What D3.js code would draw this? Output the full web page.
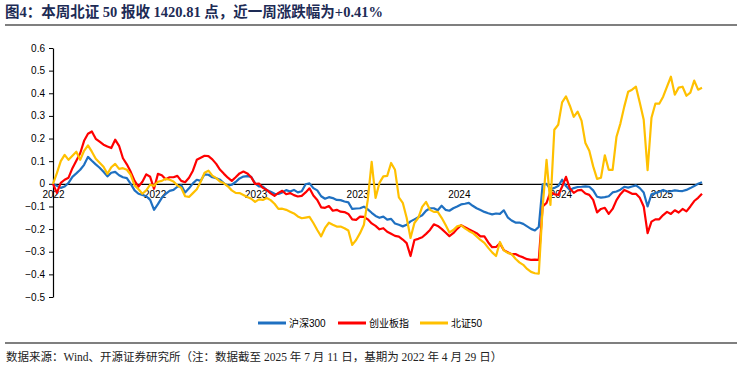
<!DOCTYPE html>
<html>
<head>
<meta charset="utf-8">
<script src="https://cdn.jsdelivr.net/npm/d3@7"></script>
<style>
  body { margin: 0; background: #fff; }
  svg text { font-family: "Liberation Sans", Arial, "Noto Sans CJK SC", sans-serif; }
</style>
</head>
<body>
<script>
// weekly closes, relative to base date 2022-04-29
var startDate = new Date(2022, 3, 29);
var weeks = d3.range(168).map(function(i) { return d3.timeDay.offset(startDate, i * 7); });

var seriesNames = ["沪深300", "创业板指", "北证50"];
var seriesColors = ["#1f70c1", "#ff0000", "#ffc000"];

var hs300 = [
  0.000, -0.009, -0.018, -0.012, 0.004, 0.031, 0.046, 0.062, 0.084, 0.119,
  0.102, 0.086, 0.071, 0.053, 0.033, 0.049, 0.053, 0.038, 0.029, 0.025,
  0.000, -0.029, -0.044, -0.049, -0.055, -0.071, -0.115, -0.090, -0.062, -0.044,
  -0.031, -0.027, -0.013, -0.007, -0.038, -0.020, 0.002, 0.018, 0.013, 0.042,
  0.040, 0.029, 0.025, 0.018, 0.002, -0.008, -0.004, 0.008, 0.024, 0.032,
  0.034, 0.031, 0.002, -0.011, -0.012, -0.027, -0.035, -0.044, -0.045, -0.038,
  -0.028, -0.034, -0.027, -0.038, -0.033, -0.002, 0.002, -0.019, -0.029, -0.055,
  -0.066, -0.059, -0.063, -0.071, -0.072, -0.078, -0.082, -0.111, -0.109, -0.108,
  -0.101, -0.113, -0.128, -0.142, -0.150, -0.145, -0.158, -0.155, -0.175, -0.181,
  -0.188, -0.181, -0.166, -0.157, -0.148, -0.139, -0.119, -0.108, -0.108, -0.117,
  -0.097, -0.115, -0.119, -0.108, -0.100, -0.091, -0.088, -0.084, -0.097, -0.108,
  -0.116, -0.124, -0.130, -0.135, -0.131, -0.133, -0.117, -0.148, -0.162, -0.171,
  -0.171, -0.177, -0.188, -0.199, -0.206, -0.190, -0.002, 0.000, -0.024, -0.018,
  -0.010, 0.018, -0.010, -0.027, -0.019, -0.014, -0.013, -0.011, -0.013, -0.029,
  -0.057, -0.061, -0.059, -0.055, -0.038, -0.034, -0.026, -0.013, -0.017, -0.012,
  -0.007, -0.019, -0.038, -0.100, -0.046, -0.041, -0.035, -0.027, -0.034, -0.033,
  -0.029, -0.031, -0.032, -0.027, -0.019, -0.010, 0.000, 0.007
];

var chinext = [
  0.000, -0.040, 0.004, 0.018, 0.027, 0.069, 0.102, 0.135, 0.190, 0.221,
  0.231, 0.199, 0.186, 0.173, 0.165, 0.158, 0.195, 0.168, 0.113, 0.086,
  0.053, 0.013, -0.012, 0.009, 0.042, 0.031, -0.022, 0.044, 0.038, 0.020,
  0.029, 0.029, 0.035, 0.013, 0.007, 0.027, 0.058, 0.106, 0.115, 0.124,
  0.122, 0.108, 0.088, 0.062, 0.044, 0.027, 0.013, 0.029, 0.046, 0.054,
  0.046, 0.029, 0.000, 0.001, -0.018, -0.027, -0.042, -0.053, -0.040, -0.031,
  -0.046, -0.041, -0.050, -0.056, -0.053, -0.038, -0.020, -0.052, -0.071, -0.104,
  -0.106, -0.098, -0.119, -0.115, -0.123, -0.125, -0.133, -0.157, -0.159, -0.145,
  -0.146, -0.157, -0.175, -0.186, -0.201, -0.196, -0.212, -0.221, -0.230, -0.233,
  -0.246, -0.262, -0.319, -0.248, -0.243, -0.236, -0.221, -0.204, -0.179, -0.186,
  -0.199, -0.215, -0.231, -0.218, -0.199, -0.183, -0.192, -0.201, -0.209, -0.218,
  -0.232, -0.232, -0.259, -0.280, -0.279, -0.263, -0.293, -0.302, -0.311, -0.310,
  -0.319, -0.325, -0.333, -0.336, -0.335, -0.336, -0.100, -0.084, -0.035, -0.046,
  -0.049, -0.013, 0.031, -0.020, -0.040, -0.029, -0.027, -0.043, -0.049, -0.071,
  -0.126, -0.111, -0.106, -0.133, -0.111, -0.072, -0.046, -0.027, -0.035, -0.044,
  -0.044, -0.062, -0.100, -0.218, -0.167, -0.157, -0.157, -0.138, -0.124, -0.133,
  -0.117, -0.127, -0.111, -0.122, -0.100, -0.076, -0.062, -0.044
];

var bse50 = [
  0.000, 0.047, 0.100, 0.128, 0.106, 0.124, 0.142, 0.106, 0.146, 0.170,
  0.142, 0.111, 0.093, 0.075, 0.044, 0.073, 0.088, 0.066, 0.069, 0.062,
  0.040, -0.007, -0.024, -0.044, -0.029, -0.004, -0.009, 0.009, 0.013, 0.022,
  0.018, 0.010, -0.007, -0.018, -0.055, -0.058, -0.041, -0.024, 0.009, 0.049,
  0.058, 0.036, 0.025, 0.010, 0.002, -0.011, -0.029, -0.040, -0.041, -0.049,
  -0.058, -0.066, -0.080, -0.069, -0.071, -0.063, -0.072, -0.088, -0.111, -0.110,
  -0.115, -0.123, -0.131, -0.144, -0.152, -0.149, -0.146, -0.173, -0.204, -0.232,
  -0.195, -0.172, -0.181, -0.189, -0.189, -0.196, -0.206, -0.270, -0.248, -0.218,
  -0.181, -0.071, 0.097, -0.062, 0.004, 0.033, 0.035, 0.092, 0.062, -0.060,
  -0.084, -0.150, -0.239, -0.173, -0.150, -0.102, -0.080, -0.115, -0.124, -0.124,
  -0.150, -0.181, -0.215, -0.204, -0.188, -0.183, -0.197, -0.208, -0.217, -0.232,
  -0.248, -0.261, -0.283, -0.303, -0.319, -0.257, -0.294, -0.305, -0.310, -0.331,
  -0.347, -0.358, -0.376, -0.389, -0.395, -0.397, -0.102, 0.106, -0.093, 0.239,
  0.261, 0.360, 0.386, 0.345, 0.296, 0.319, 0.279, 0.180, 0.146, 0.077,
  0.022, 0.027, 0.126, 0.062, 0.062, 0.208, 0.266, 0.341, 0.407, 0.416,
  0.429, 0.358, 0.283, 0.060, 0.292, 0.354, 0.354, 0.385, 0.429, 0.473,
  0.394, 0.425, 0.429, 0.389, 0.403, 0.456, 0.416, 0.424
];

var yTicks = [0.6, 0.5, 0.4, 0.3, 0.2, 0.1, 0, -0.1, -0.2, -0.3, -0.4, -0.5];
var xTicks = d3.range(7).map(function(i) { return d3.timeMonth.offset(startDate, i * 6); });

var titleText = "图4：本周北证 50 报收 1420.81 点，近一周涨跌幅为+0.41%";
var sourceText = "数据来源：Wind、开源证券研究所（注：数据截至 2025 年 7 月 11 日，基期为 2022 年 4 月 29 日）";

var w = 742, h = 372;
var svg = d3.select("body").append("svg")
  .attr("width", w)
  .attr("height", h);

// title + rules
svg.append("text")
  .attr("x", 5)
  .attr("y", 17)
  .style("font-family", "'Liberation Serif', 'Times New Roman', 'Noto Sans CJK SC', serif")
  .style("font-size", "14.5px")
  .style("font-weight", "bold")
  .style("fill", "#1d2b55")
  .text(titleText);

svg.append("line")
  .attr("x1", 5).attr("x2", 737)
  .attr("y1", 25).attr("y2", 25)
  .style("stroke", "#000").style("stroke-width", 1.2);

svg.append("line")
  .attr("x1", 5).attr("x2", 737)
  .attr("y1", 343).attr("y2", 343)
  .style("stroke", "#000").style("stroke-width", 1.2);

svg.append("text")
  .attr("x", 6)
  .attr("y", 361)
  .style("font-family", "'Liberation Serif', 'Times New Roman', 'Noto Sans CJK SC', serif")
  .style("font-size", "11.5px")
  .style("fill", "#222")
  .text(sourceText);

// scales
var xScale = d3.scaleTime()
  .domain([weeks[0], weeks[weeks.length - 1]])
  .range([53, 702]);

var yScale = d3.scaleLinear()
  .domain([-0.5, 0.6])
  .range([297, 48]);

// y axis
var yAxis = d3.axisLeft(yScale)
  .tickValues(yTicks)
  .tickSize(4)
  .tickSizeOuter(0)
  .tickFormat(function(d) { return d3.format("")(+d.toFixed(1)); });

var gy = svg.append("g")
  .attr("transform", "translate(53,0)")
  .call(yAxis);
gy.select(".domain").style("stroke", "#000").style("stroke-width", 1.2);
gy.selectAll(".tick line").style("stroke", "#000");
gy.selectAll(".tick text")
  .attr("x", -8)
  .attr("dy", "0.3em")
  .style("font-size", "10px")
  .style("fill", "#000");

// lines
var line = d3.line()
  .x(function(d, i) { return xScale(weeks[i]); })
  .y(function(d) { return yScale(d); });

var allSeries = [hs300, chinext, bse50];

// x axis sits on zero
var xAxis = d3.axisBottom(xScale)
  .tickValues(xTicks)
  .tickSize(0)
  .tickSizeOuter(0)
  .tickFormat(d3.timeFormat("%Y"));

var gx = svg.append("g")
  .attr("transform", "translate(0," + yScale(0) + ")")
  .call(xAxis);
gx.select(".domain").style("stroke", "#000").style("stroke-width", 1.2);
gx.selectAll(".tick text")
  .attr("y", 7)
  .style("font-size", "10px")
  .style("fill", "#000");

svg.append("g")
  .selectAll("path")
  .data(allSeries)
  .enter()
  .append("path")
  .attr("d", line)
  .attr("fill", "none")
  .style("stroke", function(d, i) { return seriesColors[i]; })
  .style("stroke-width", 2.2)
  .style("stroke-linejoin", "round");

// legend
var legendX = [258, 338, 420];
var legend = svg.append("g");
seriesNames.forEach(function(name, i) {
  legend.append("line")
    .attr("x1", legendX[i]).attr("x2", legendX[i] + 28)
    .attr("y1", 323).attr("y2", 323)
    .style("stroke", seriesColors[i])
    .style("stroke-width", 3);
  legend.append("text")
    .attr("x", legendX[i] + 31)
    .attr("y", 327)
    .style("font-size", "10px")
    .style("fill", "#000")
    .text(name);
});
</script>
</body>
</html>
